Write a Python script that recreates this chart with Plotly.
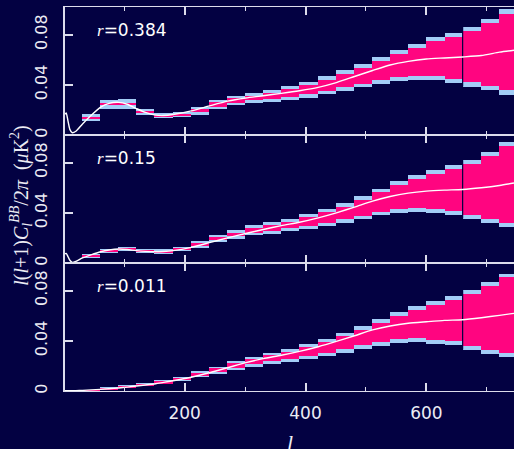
import plotly.graph_objects as go
from plotly.subplots import make_subplots

# ---------------- data ----------------
bin_left = [30, 60, 90, 120, 150, 180, 210, 240, 270, 300, 330, 360,
            390, 420, 450, 480, 510, 540, 570, 600, 630, 660, 690, 720]
bin_width = 30

panel_labels = ["0.384", "0.15", "0.011"]

# top panel (r = 0.384)
top_lo = [0.0135, 0.0242, 0.0242, 0.0177, 0.0151, 0.0158, 0.0181, 0.0227, 0.0256, 0.0278, 0.0286, 0.0305,
          0.0324, 0.0351, 0.0380, 0.0407, 0.0439, 0.0463, 0.0472, 0.0472, 0.0447, 0.0423, 0.0391, 0.0359]
top_hi = [0.0144, 0.0251, 0.0251, 0.0186, 0.0160, 0.0170, 0.0205, 0.0262, 0.0292, 0.0310, 0.0332, 0.0367,
          0.0397, 0.0439, 0.0488, 0.0536, 0.0590, 0.0649, 0.0697, 0.0746, 0.0778, 0.0826, 0.0891, 0.0963]
top_cap = [0.0027, 0.0031, 0.0032, 0.0020, 0.0015, 0.0014, 0.0018, 0.0017, 0.0019, 0.0023, 0.0025, 0.0026,
           0.0026, 0.0028, 0.0027, 0.0028, 0.0032, 0.0032, 0.0032, 0.0032, 0.0035, 0.0037, 0.0032, 0.0040]

# middle panel (r = 0.15)
mid_lo = [0.0054, 0.0090, 0.0110, 0.0094, 0.0086, 0.0106, 0.0138, 0.0184, 0.0213, 0.0242, 0.0258, 0.0277,
          0.0298, 0.0322, 0.0349, 0.0378, 0.0410, 0.0434, 0.0442, 0.0434, 0.0418, 0.0386, 0.0354, 0.0322]
mid_hi = [0.0062, 0.0098, 0.0118, 0.0102, 0.0094, 0.0114, 0.0162, 0.0205, 0.0242, 0.0277, 0.0306, 0.0330,
          0.0368, 0.0408, 0.0450, 0.0506, 0.0562, 0.0618, 0.0666, 0.0706, 0.0746, 0.0786, 0.0850, 0.0930]
mid_cap = [0.0011, 0.0012, 0.0012, 0.0013, 0.0014, 0.0014, 0.0015, 0.0020, 0.0019, 0.0022, 0.0024, 0.0024,
           0.0024, 0.0026, 0.0030, 0.0030, 0.0028, 0.0032, 0.0032, 0.0032, 0.0032, 0.0032, 0.0032, 0.0032]

# bottom panel (r = 0.011)
bot_lo = [0.0002, 0.0015, 0.0029, 0.0045, 0.0063, 0.0087, 0.0121, 0.0148, 0.0187, 0.0216, 0.0237, 0.0258,
          0.0282, 0.0305, 0.0331, 0.0363, 0.0392, 0.0416, 0.0424, 0.0408, 0.0400, 0.0361, 0.0329, 0.0305]
bot_hi = [0.0006, 0.0023, 0.0037, 0.0058, 0.0077, 0.0106, 0.0145, 0.0181, 0.0224, 0.0252, 0.0284, 0.0313,
          0.0350, 0.0392, 0.0437, 0.0487, 0.0542, 0.0597, 0.0645, 0.0684, 0.0724, 0.0771, 0.0834, 0.0905]
bot_cap = [0.0004, 0.0006, 0.0007, 0.0007, 0.0007, 0.0009, 0.0013, 0.0012, 0.0017, 0.0022, 0.0022, 0.0024,
           0.0024, 0.0024, 0.0026, 0.0030, 0.0030, 0.0031, 0.0031, 0.0030, 0.0031, 0.0031, 0.0031, 0.0031]

# theory curves
ell_curve = [2, 4, 7, 10, 14, 20, 31, 45, 61, 75, 91, 105, 120, 135, 152, 165, 181, 211, 241, 271,
             301, 330, 360, 390, 421, 451, 481, 511, 540, 570, 600, 630, 660, 691, 721, 745]
top_curve = [0.0165, 0.0175, 0.0110, 0.0045, 0.0018, 0.0030, 0.0088, 0.0155, 0.0222, 0.0252, 0.0260, 0.0245,
             0.0211, 0.0180, 0.0158, 0.0155, 0.0163, 0.0192, 0.0232, 0.0270, 0.0295, 0.0313, 0.0332, 0.0353,
             0.0380, 0.0418, 0.0466, 0.0514, 0.0558, 0.0587, 0.0606, 0.0614, 0.0622, 0.0633, 0.0660, 0.0675]
mid_curve = [0.0072, 0.0077, 0.0050, 0.0022, 0.0005, 0.0013, 0.0040, 0.0065, 0.0090, 0.0104, 0.0112, 0.0108,
             0.0099, 0.0093, 0.0090, 0.0092, 0.0099, 0.0125, 0.0162, 0.0200, 0.0235, 0.0267, 0.0298, 0.0325,
             0.0360, 0.0400, 0.0445, 0.0493, 0.0530, 0.0557, 0.0573, 0.0581, 0.0586, 0.0600, 0.0618, 0.0637]
bot_curve = [0.0002, 0.0002, 0.0002, 0.0002, 0.0002, 0.0003, 0.0005, 0.0009, 0.0013, 0.0018, 0.0024, 0.0031,
             0.0040, 0.0048, 0.0058, 0.0069, 0.0082, 0.0110, 0.0145, 0.0185, 0.0226, 0.0258, 0.0285, 0.0316,
             0.0353, 0.0395, 0.0440, 0.0487, 0.0518, 0.0540, 0.0552, 0.0563, 0.0568, 0.0584, 0.0603, 0.0619]

y_tickvals = [0, 0.04, 0.08]
y_ticktext = ["0", "0.04", "0.08"]
x_range = [2, 745]
y_range = [0, 0.102]

# ---------------- style ----------------
BG = "#030142"
PINK = "#ff0580"
BLUE = "#a3cdf7"
AX = "#dcdcec"
SANS = "DejaVu Sans"
SERIF = "Liberation Serif"

panels = [(top_lo, top_hi, top_cap, top_curve),
          (mid_lo, mid_hi, mid_cap, mid_curve),
          (bot_lo, bot_hi, bot_cap, bot_curve)]

fig = make_subplots(rows=3, cols=1, shared_xaxes=True, vertical_spacing=0)

centers = [b + bin_width / 2 for b in bin_left]
split_l = 660

for i, (lo, hi, cap, curve) in enumerate(panels):
    row = i + 1
    outer_base = [l - c for l, c in zip(lo, cap)]
    outer_h = [(h + c) - (l - c) for l, h, c in zip(lo, hi, cap)]
    fig.add_trace(go.Bar(x=centers, base=outer_base, y=outer_h, width=bin_width,
                         marker=dict(color=BLUE, line=dict(width=0)), showlegend=False), row=row, col=1)
    fig.add_trace(go.Bar(x=centers, base=lo, y=[h - l for l, h in zip(lo, hi)], width=bin_width,
                         marker=dict(color=PINK, line=dict(width=0)), showlegend=False), row=row, col=1)
    # thin separator between the bins meeting at l = 660
    j = bin_left.index(split_l)
    ymin = min(lo[j - 1] - cap[j - 1], lo[j] - cap[j])
    ymax = max(hi[j - 1] + cap[j - 1], hi[j] + cap[j])
    fig.add_trace(go.Scatter(x=[split_l, split_l], y=[ymin, ymax], mode="lines",
                             line=dict(color=BG, width=1.2), showlegend=False), row=row, col=1)
    fig.add_trace(go.Scatter(x=ell_curve, y=curve, mode="lines",
                             line=dict(color="white", width=1.4, shape="spline", smoothing=0.6),
                             showlegend=False), row=row, col=1)
    fig.add_annotation(
        text="<span style='font-family:Liberation Serif;font-style:italic'>r</span>=" + panel_labels[i],
        x=52, y=0.0835, xref=f"x{'' if row == 1 else row}", yref=f"y{'' if row == 1 else row}",
        xanchor="left", yanchor="middle", showarrow=False,
        font=dict(family=SANS, size=17, color="white"))

fig.update_xaxes(range=x_range, showline=True, linecolor=AX, linewidth=1.2, mirror="allticks",
                 ticks="inside", ticklen=8, tickwidth=1.5, tickcolor=AX, tick0=0, dtick=200,
                 minor=dict(dtick=100, tick0=0, ticks="inside", ticklen=4, tickwidth=1.2, tickcolor=AX),
                 showgrid=False, zeroline=False,
                 tickfont=dict(family=SANS, size=17, color="#ececf4"), ticklabelstandoff=6)
fig.update_yaxes(range=y_range, tickvals=y_tickvals, ticktext=y_ticktext, showline=True,
                 linecolor=AX, linewidth=1.5, mirror=False, ticks="inside", ticklen=8,
                 tickwidth=1.5, tickcolor=AX, tickangle=-90, showgrid=False, zeroline=False,
                 tickfont=dict(family=SANS, size=16, color="#ececf4"), ticklabelstandoff=10)

fig.add_annotation(text="<i>l</i>", x=0.5, y=-0.135, xref="paper", yref="paper",
                   xanchor="center", yanchor="middle", showarrow=False,
                   font=dict(family=SERIF, size=22, color="#ececf4"))
fig.add_annotation(
    text="<i>l</i>(<i>l</i>+1)<i>C</i><sub><i>l</i></sub><sup><i>BB</i></sup>/2<i>π</i>  (<i>μ</i>K<sup>2</sup>)",
    x=-0.098, y=0.485, xref="paper", yref="paper", textangle=-90,
    xanchor="center", yanchor="middle", showarrow=False,
    font=dict(family=SERIF, size=20, color="#ececf4"))

fig.update_layout(width=514, height=449, margin=dict(l=65, r=0, t=7, b=58, autoexpand=False),
                  paper_bgcolor=BG, plot_bgcolor=BG, barmode="overlay", bargap=0,
                  showlegend=False)

fig.write_html("out.html", config={"displayModeBar": False},
               post_script="document.body.style.margin='0';document.body.style.overflow='hidden';"
                           "document.body.style.background='" + BG + "';")
